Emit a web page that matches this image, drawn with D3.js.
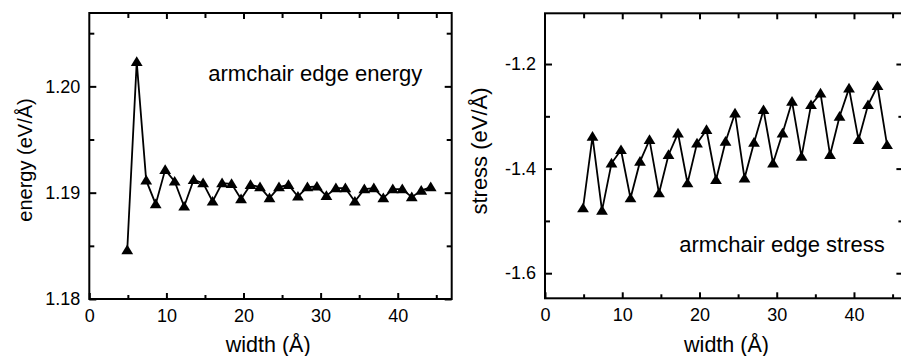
<!DOCTYPE html>
<html>
<head>
<meta charset="utf-8">
<script src="https://cdn.jsdelivr.net/npm/d3@7"></script>
<style>
  html, body { margin: 0; padding: 0; background: #fff; overflow: hidden; }
  svg { display: block; }
  text { font-family: "Liberation Sans", Arial, Helvetica, sans-serif; fill: #000; }
</style>
</head>
<body>
<svg id="chart" width="901" height="356"></svg>
<script>
// ---- data ----
const widths = [4.92, 6.15, 7.38, 8.61, 9.84, 11.07, 12.30, 13.53, 14.76, 15.99, 17.22,
  18.45, 19.68, 20.91, 22.14, 23.37, 24.60, 25.83, 27.06, 28.29, 29.52, 30.75,
  31.98, 33.21, 34.44, 35.67, 36.90, 38.13, 39.36, 40.59, 41.82, 43.05, 44.28];
const energy = [1.1846, 1.2023, 1.19115, 1.18892, 1.19215, 1.19105, 1.1887, 1.1912,
  1.1909, 1.18917, 1.1909, 1.19083, 1.1894, 1.19074, 1.19052, 1.18949, 1.19052,
  1.19074, 1.18964, 1.19052, 1.19058, 1.1897, 1.19043, 1.19043, 1.18917, 1.19033,
  1.19043, 1.18949, 1.19033, 1.19033, 1.18958, 1.1902, 1.19052];
const stress = [-1.4758, -1.3389, -1.4803, -1.3898, -1.3644, -1.4567, -1.3867, -1.3452,
  -1.4471, -1.3739, -1.3325, -1.428, -1.3516, -1.3261, -1.4217, -1.3485, -1.2943,
  -1.4185, -1.3504, -1.2879, -1.3898, -1.3325, -1.272, -1.3772, -1.2784, -1.256,
  -1.3739, -1.3007, -1.2465, -1.3452, -1.2784, -1.242, -1.3548];
const xTicks = [0, 10, 20, 30, 40];
const xMinorTicks = [5, 15, 25, 35, 45];
const energyTicks = [1.18, 1.19, 1.20];
const energyMinorTicks = [1.185, 1.195, 1.205];
const stressTicks = [-1.6, -1.4, -1.2];
const stressMinorTicks = [-1.5, -1.3];
const energyLabels = ["1.18", "1.19", "1.20"];
const stressLabels = ["-1.6", "-1.4", "-1.2"];

const svg = d3.select("#chart");
const FONT = '"Liberation Sans", Arial, Helvetica, sans-serif';

function panel(cfg) {
  const g = svg.append("g");
  const x = d3.scaleLinear().domain(cfg.xDomain).range([cfg.left, cfg.right]);
  const y = d3.scaleLinear().domain(cfg.yDomain).range([cfg.bottom, cfg.top]);

  function styleAxis(sel) {
    sel.select(".domain").remove();
    sel.selectAll(".tick line").attr("stroke", "#000").attr("stroke-width", 2);
    sel.selectAll(".tick text").attr("font-family", FONT).attr("font-size", 18).attr("fill", "#000");
  }

  const minors = xMinorTicks.filter(v => v < cfg.xDomain[1]);
  // bottom
  g.append("g").attr("transform", `translate(0,${cfg.bottom})`)
    .call(d3.axisBottom(x).tickValues(xTicks).tickSize(-6).tickPadding(10).tickFormat(d3.format("d")))
    .call(styleAxis);
  g.append("g").attr("transform", `translate(0,${cfg.bottom})`)
    .call(d3.axisBottom(x).tickValues(minors).tickSize(-4).tickFormat(""))
    .call(styleAxis);
  // top
  g.append("g").attr("transform", `translate(0,${cfg.top})`)
    .call(d3.axisTop(x).tickValues(xTicks.filter(v => v > 0)).tickSize(-6).tickFormat(""))
    .call(styleAxis);
  g.append("g").attr("transform", `translate(0,${cfg.top})`)
    .call(d3.axisTop(x).tickValues(minors).tickSize(-5).tickFormat(""))
    .call(styleAxis);
  // left
  g.append("g").attr("transform", `translate(${cfg.left},0)`)
    .call(d3.axisLeft(y).tickValues(cfg.yTicks).tickSize(-7).tickPadding(9)
      .tickFormat((d, i) => cfg.yLabels[i]))
    .call(styleAxis);
  g.append("g").attr("transform", `translate(${cfg.left},0)`)
    .call(d3.axisLeft(y).tickValues(cfg.yMinor).tickSize(-5).tickFormat(""))
    .call(styleAxis);
  // right
  g.append("g").attr("transform", `translate(${cfg.right},0)`)
    .call(d3.axisRight(y).tickValues(cfg.yTicks).tickSize(-7).tickFormat(""))
    .call(styleAxis);
  g.append("g").attr("transform", `translate(${cfg.right},0)`)
    .call(d3.axisRight(y).tickValues(cfg.yMinor).tickSize(-5).tickFormat(""))
    .call(styleAxis);

  // frame
  g.append("rect")
    .attr("x", cfg.left).attr("y", cfg.top)
    .attr("width", cfg.right - cfg.left).attr("height", cfg.bottom - cfg.top)
    .attr("fill", "none").attr("stroke", "#000").attr("stroke-width", 2);

  // line
  const line = d3.line().x((d, i) => x(widths[i])).y(d => y(d));
  g.append("path").datum(cfg.values)
    .attr("d", line).attr("fill", "none").attr("stroke", "#000")
    .attr("stroke-width", 1.8).attr("stroke-linejoin", "miter");

  // markers
  g.selectAll("path.mk").data(cfg.values).enter().append("path")
    .attr("class", "mk")
    .attr("transform", (d, i) => `translate(${x(widths[i])},${y(d)})`)
    .attr("d", "M0,-5.6L5.9,4.1L-5.9,4.1Z")
    .attr("fill", "#000");

  // axis titles
  g.append("text")
    .attr("x", x(cfg.xTitleAt)).attr("y", 352)
    .attr("text-anchor", "middle").attr("font-size", 21.5)
    .text("width (Å)");
  g.append("text")
    .attr("transform", `translate(${cfg.yTitleX},${cfg.yTitleY}) rotate(-90)`)
    .attr("text-anchor", "middle").attr("font-size", cfg.yTitleSize)
    .text(cfg.yTitle);
  // annotation
  g.append("text")
    .attr("x", cfg.noteX).attr("y", cfg.noteY)
    .attr("font-size", 22)
    .text(cfg.note);
}

panel({
  left: 89.3, right: 451.7, top: 13, bottom: 299,
  xDomain: [0, 47], yDomain: [1.18, 1.2069],
  yTicks: energyTicks, yMinor: energyMinorTicks, yLabels: energyLabels,
  values: energy, xTitleAt: 23.2,
  yTitle: "energy (eV/Å)", yTitleX: 32, yTitleY: 160, yTitleSize: 20,
  note: "armchair edge energy", noteX: 208.3, noteY: 81
});

panel({
  left: 545, right: 903.4, top: 13.3, bottom: 298.3,
  xDomain: [0, 46.4], yDomain: [-1.648, -1.103],
  yTicks: stressTicks, yMinor: stressMinorTicks, yLabels: stressLabels,
  values: stress, xTitleAt: 23.5,
  yTitle: "stress (eV/Å)", yTitleX: 487, yTitleY: 151, yTitleSize: 22,
  note: "armchair edge stress", noteX: 679.3, noteY: 251.7
});
</script>
</body>
</html>
